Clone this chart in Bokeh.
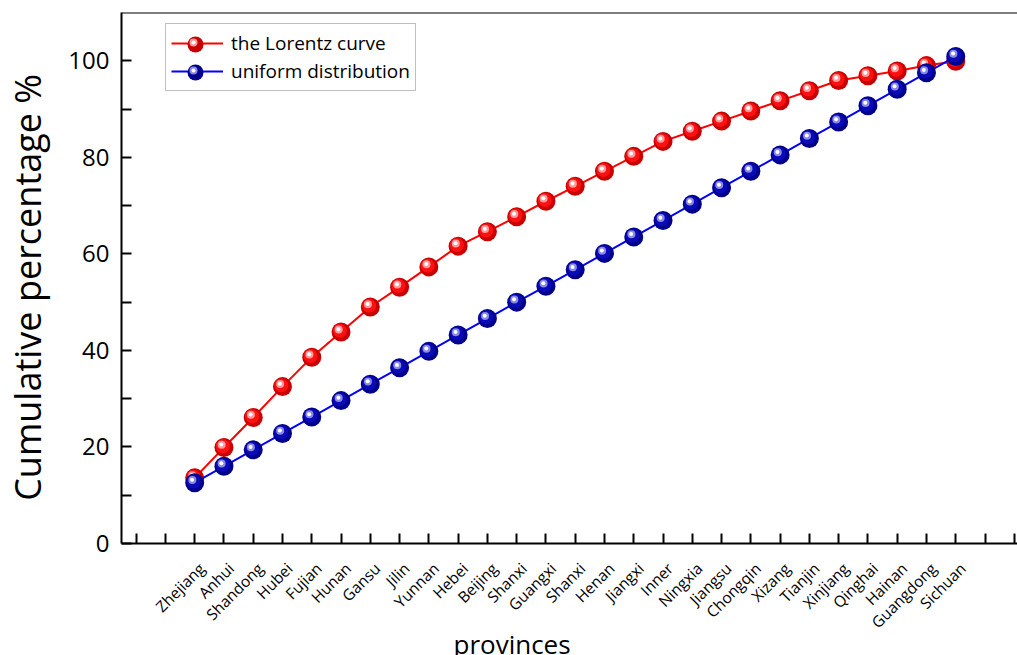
import math
from bokeh.plotting import figure
from bokeh.models import (Range1d, FixedTicker, Legend, LegendItem, Span, Title,
                          LinearAxis, ColumnDataSource)
from bokeh.transform import dodge
from bokeh.embed import file_html
from bokeh.resources import INLINE

provinces = ["Zhejiang", "Anhui", "Shandong", "Hubei", "Fujian", "Hunan", "Gansu",
             "Jilin", "Yunnan", "Hebei", "Beijing", "Shanxi", "Guangxi", "Shanxi",
             "Henan", "Jiangxi", "Inner", "Ningxia", "Jiangsu", "Chongqin", "Xizang",
             "Tianjin", "Xinjiang", "Qinghai", "Hainan", "Guangdong", "Sichuan"]
lorentz = [13.6, 19.9, 26.1, 32.5, 38.6, 43.8, 49.0, 53.1, 57.3, 61.6, 64.6, 67.7,
           70.9, 74.0, 77.1, 80.2, 83.3, 85.4, 87.5, 89.6, 91.7, 93.8, 95.9, 96.9,
           97.9, 99.0, 99.9]
uniform = [12.6, 16.0, 19.4, 22.8, 26.2, 29.6, 33.0, 36.4, 39.8, 43.2, 46.6, 50.0,
           53.3, 56.7, 60.1, 63.5, 66.9, 70.3, 73.7, 77.1, 80.5, 83.9, 87.3, 90.7,
           94.1, 97.5, 100.9]
y_ticks = [0, 20, 40, 60, 80, 100]
y_minor = [10, 30, 50, 70, 90]

FONT = "Open Sans"
x_pos = list(range(3, 3 + len(provinces)))
src = ColumnDataSource(dict(x=x_pos, lor=lorentz, uni=uniform))

X0, X1 = 0.5, 31.11
LAB_SHIFT = 0.24

p = figure(frame_width=896, frame_height=531,
           x_range=Range1d(X0, X1), y_range=Range1d(0, 110),
           output_backend="svg", toolbar_location=None,
           min_border_left=121, min_border_top=12, min_border_right=0,
           min_border_bottom=112)
p.grid.visible = False
p.outline_line_color = None
p.background_fill_color = "white"
p.border_fill_color = "white"

# x axis: tick marks only
all_ticks = list(range(1, 32))
xa = p.xaxis[0]
xa.ticker = FixedTicker(ticks=all_ticks)
xa.major_label_overrides = {t: "" for t in all_ticks}
xa.major_label_text_font_size = "0px"
xa.major_label_standoff = 0
xa.axis_line_width = 2
xa.axis_line_color = "black"
xa.major_tick_line_width = 2
xa.major_tick_line_color = "black"
xa.major_tick_in = 10
xa.major_tick_out = 0
xa.minor_tick_line_color = None

# x axis: rotated province labels (slightly shifted, as in the original)
p.extra_x_ranges = {"lab": Range1d(X0 - LAB_SHIFT, X1 - LAB_SHIFT)}
overrides = {t: "" for t in all_ticks}
for xp, name in zip(x_pos, provinces):
    overrides[xp] = name
xl = LinearAxis(x_range_name="lab", ticker=FixedTicker(ticks=x_pos),
                major_label_overrides=overrides)
xl.major_label_orientation = math.pi / 4
xl.major_label_text_font = FONT
xl.major_label_text_font_size = "15.5px"
xl.major_label_text_color = "black"
xl.major_label_standoff = 16
xl.axis_line_color = None
xl.major_tick_line_color = None
xl.minor_tick_line_color = None
p.add_layout(xl, "below")

# y axis
ya = p.yaxis[0]
ya.ticker = FixedTicker(ticks=y_ticks, minor_ticks=y_minor)
ya.major_label_text_font = FONT
ya.major_label_text_font_size = "24px"
ya.major_label_text_color = "black"
ya.major_label_standoff = 12
ya.axis_line_width = 2
ya.axis_line_color = "black"
ya.major_tick_line_width = 2
ya.major_tick_line_color = "black"
ya.major_tick_in = 10
ya.major_tick_out = 0
ya.minor_tick_line_width = 2
ya.minor_tick_line_color = "black"
ya.minor_tick_in = 10
ya.minor_tick_out = 0
ya.axis_label = "Cumulative percentage %\u00a0\u00a0"
ya.axis_label_text_font = FONT
ya.axis_label_text_font_size = "36px"
ya.axis_label_text_font_style = "normal"
ya.axis_label_text_color = "black"
ya.axis_label_standoff = 13

p.add_layout(Span(location=110, dimension="width", line_color="black", line_width=2))

p.add_layout(Title(text="provinces", align="left", offset=332, standoff=-44,
                   vertical_align="middle",
                   text_font=FONT, text_font_size="26px", text_font_style="normal",
                   text_color="black"), "below")


def ball_series(col, line_color, base, mid, glow):
    ln = p.line("x", col, source=src, line_color=line_color, line_width=2)
    b = p.scatter("x", col, source=src, size=19, fill_color=base, line_color=None)
    p.scatter(dodge("x", -0.04), dodge(col, 0.25), source=src, size=14,
              fill_color=mid, line_color=None)
    g = p.scatter(dodge("x", -0.08), dodge(col, 0.55), source=src, size=8,
                  fill_color=glow, line_color=None)
    s = p.scatter(dodge("x", -0.09), dodge(col, 0.6), source=src, size=4,
                  fill_color="white", line_color=None)
    return ln, b, g, s


r_line, r_base, r_glow, r_spot = ball_series("lor", "#ff0000", "#c80000", "#ff1010", "#ff9a9a")
b_line, b_base, b_glow, b_spot = ball_series("uni", "#0000ff", "#00008a", "#0a0ab8", "#8a8ae0")

labels = ["the Lorentz curve", "uniform distribution"]
FRAME_BOTTOM = 543

# main legend: lines, labels and frame
leg = Legend(items=[LegendItem(label=labels[0], renderers=[r_line]),
                    LegendItem(label=labels[1], renderers=[b_line])],
             location=(44, FRAME_BOTTOM - 25 - 66))
leg.label_text_font = FONT
leg.label_text_font_size = "19px"
leg.label_text_color = "black"
leg.glyph_width = 52
leg.glyph_height = 28
leg.label_height = 28
leg.label_standoff = 8
leg.spacing = 0
leg.padding = 5
leg.margin = 0
leg.border_line_color = "#808080"
leg.border_line_width = 1
leg.background_fill_alpha = 1
p.add_layout(leg, "center")


def ball_legend(rend, label, gh, cx, cy):
    # single-item legend whose only glyph is a ball layer centred at (cx, cy)
    lg = Legend(items=[LegendItem(label=label, renderers=[rend])],
                location=(cx - 121 - 26, FRAME_BOTTOM - (cy - gh // 2) - gh))
    lg.label_text_font_size = "1px"
    lg.label_text_alpha = 0
    lg.glyph_width = 52
    lg.glyph_height = gh
    lg.label_height = gh
    lg.label_width = 1
    lg.spacing = 0
    lg.padding = 0
    lg.margin = 0
    lg.border_line_color = None
    lg.background_fill_alpha = 0
    p.add_layout(lg, "center")


for (base, glow, spot), lab, cy in [((r_base, r_glow, r_spot), labels[0], 44),
                                    ((b_base, b_glow, b_spot), labels[1], 72)]:
    ball_legend(base, lab, 40, 195, cy)
    ball_legend(glow, lab, 20, 193, cy - 2)
    ball_legend(spot, lab, 10, 193, cy - 2)

open("out.html", "w").write(file_html(p, INLINE))
